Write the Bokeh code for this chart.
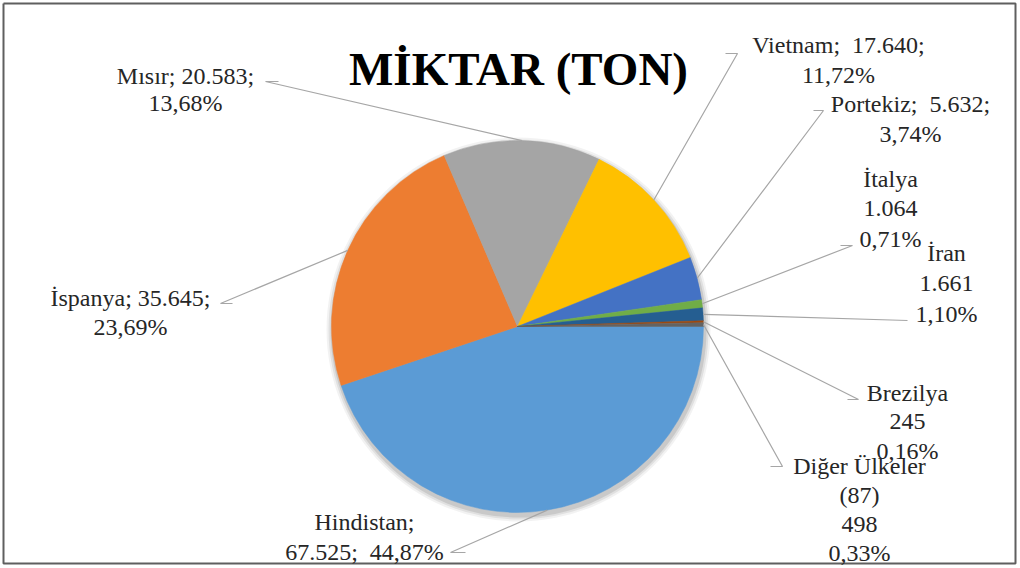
import numpy as np
from bokeh.plotting import figure
from bokeh.models import Range1d, ColumnDataSource
from bokeh.core.properties import value
from bokeh.embed import file_html
from bokeh.resources import INLINE

# ---------------- data ----------------
title_text = "MİKTAR (TON)"
countries = ["Hindistan", "İspanya", "Mısır", "Vietnam", "Portekiz",
             "İtalya", "İran", "Brezilya", "Diğer Ülkeler (87)"]
tons = [67525, 35645, 20583, 17640, 5632, 1064, 1661, 245, 498]
percent_labels = ["44,87%", "23,69%", "13,68%", "11,72%", "3,74%",
                  "0,71%", "1,10%", "0,16%", "0,33%"]
label_lines = [
    ["Hindistan;", "67.525;\u00a0 44,87%"],
    ["İspanya; 35.645;", "23,69%"],
    ["Mısır; 20.583;", "13,68%"],
    ["Vietnam;\u00a0 17.640;", "11,72%"],
    ["Portekiz;\u00a0 5.632;", "3,74%"],
    ["İtalya", "1.064", "0,71%"],
    ["İran", "1.661", "1,10%"],
    ["Brezilya", "245", "0,16%"],
    ["Diğer Ülkeler", "(87)", "498", "0,33%"],
]
colors = ["#5B9BD5", "#ED7D31", "#A5A5A5", "#FFC000", "#4472C4",
          "#70AD47", "#255E91", "#9E480E", "#636363"]

# ---------------- layout (pixel coords of the reference picture) ----------------
W, H = 1018, 566
OFF = 0


def px(x):
    return x - OFF


def py(y):
    return (H + OFF) - y


CX, CY, R = 517, 326, 186
# label block: (center x, first line center y, line spacing)
label_pos = [
    (364, 521, 30),
    (130, 297, 29),
    (185, 75, 27),
    (838, 44, 30),
    (910, 103, 30),
    (890, 178, 30),
    (946, 252, 30.5),
    (907, 392, 29),
    (859, 465, 29.3),
]
# leader line points: (outer x, outer y, elbow x, elbow y)
leader_pts = [
    (465, 552, 450, 552),
    (232, 303, 220, 303),
    (278, 81, 265, 81),
    (725, 53, 737, 53),
    (813, 110, 823, 110),
    (840, 245, 852, 245),
    (907, 320, 907, 320),
    (847, 399, 858, 399),
    (770, 466, 782, 466),
]

p = figure(width=W, height=H, output_backend="svg", toolbar_location=None,
           x_range=Range1d(0, W), y_range=Range1d(0, H),
           min_border=0, background_fill_color="white")
p.axis.visible = False
p.grid.visible = False
p.outline_line_color = None

# frame like the reference
p.line(x=[3, W - 3, W - 3, 3, 3], y=[H - 3, H - 3, 3, 3, H - 3],
       line_color="#5f5f5f", line_width=2)

# shadow
for dr, a in [(6, 0.05), (4, 0.07), (2, 0.10)]:
    p.circle(x=[px(CX) + 1], y=[py(CY) - 3], radius=R + dr,
             fill_color="#000000", fill_alpha=a, line_color=None)

total = float(sum(tons))
frac = np.array(tons) / total
cum = np.concatenate([[0], np.cumsum(frac)])
start = -2 * np.pi * cum[:-1]
end = -2 * np.pi * cum[1:]
src = ColumnDataSource(dict(start=start, end=end, color=colors, name=countries))
p.wedge(x=px(CX), y=py(CY), radius=R, start_angle="start", end_angle="end",
        direction="clock", fill_color="color", line_color="color",
        line_width=0.5, source=src)

# leader lines
mid = (start + end) / 2.0
for i in range(len(tons)):
    ex = px(CX) + R * np.cos(mid[i])
    ey = py(CY) + R * np.sin(mid[i])
    ox, oy, bx, by = leader_pts[i]
    p.line(x=[ex, px(bx), px(ox)], y=[ey, py(by), py(oy)],
           line_color="#a6a6a6", line_width=1.2)

# labels
for i, lines in enumerate(label_lines):
    lx, ly, sp = label_pos[i]
    xs = [px(lx)] * len(lines)
    ys = [py(ly + k * sp) for k in range(len(lines))]
    p.text(x=xs, y=ys, text=lines, text_font=value("Liberation Serif"),
           text_font_size="24px", text_color="#262626",
           text_align="center", text_baseline="middle")

# title
p.text(x=[px(518)], y=[py(68)], text=[title_text],
       text_font=value("Liberation Serif"), text_font_style="bold",
       text_font_size="47px", text_color="#000000",
       text_align="center", text_baseline="alphabetic")

open("out.html", "w").write(file_html(p, INLINE))
